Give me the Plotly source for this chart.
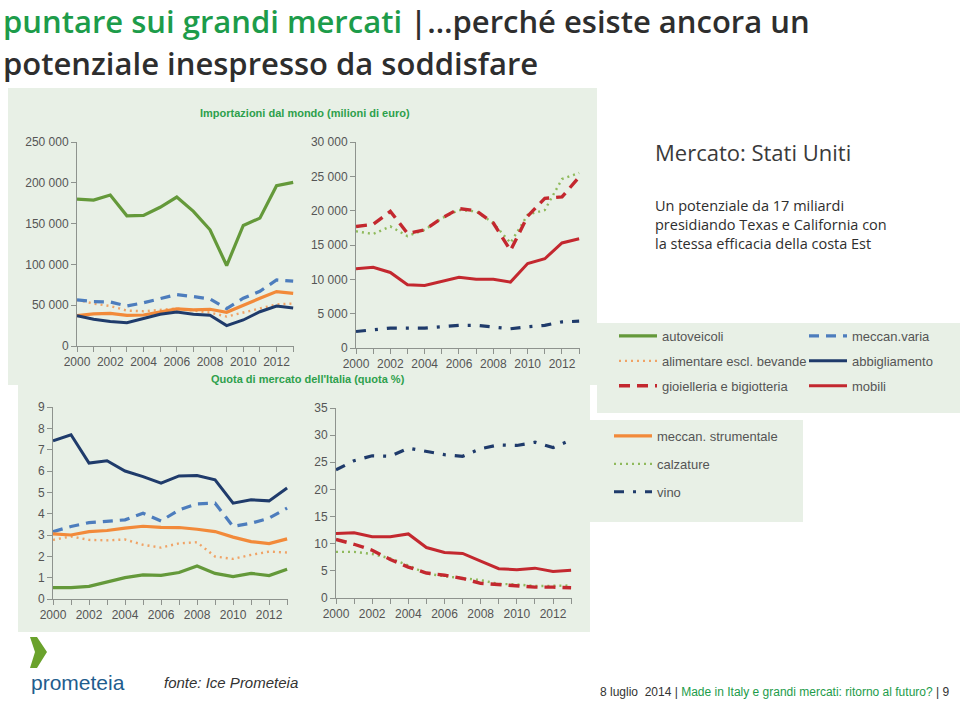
import plotly.graph_objects as go

W, H = 960, 701

# ---------------- data ----------------
years = [2000, 2001, 2002, 2003, 2004, 2005, 2006, 2007, 2008, 2009, 2010, 2011, 2012, 2013]
year_labels = ["2000", "", "2002", "", "2004", "", "2006", "", "2008", "", "2010", "", "2012", ""]

# Importazioni dal mondo (milioni di euro) - left panel
imp_autoveicoli = [180000, 178800, 185000, 159600, 160000, 170000, 182500, 165000, 142400, 98600, 147700, 156700, 196400, 200500]
imp_meccan_varia = [56500, 54400, 54000, 49000, 53000, 57700, 63000, 60600, 57700, 45800, 58500, 67000, 81000, 79400]
imp_meccan_strum = [37200, 39300, 40000, 37600, 38000, 42000, 45400, 44200, 45000, 41300, 50300, 58500, 66700, 64600]
imp_alimentare = [56500, 52000, 49000, 43400, 42600, 44000, 46000, 43400, 41000, 36000, 41000, 46000, 51000, 52000]
imp_abbigliamento = [37200, 32700, 29900, 28600, 33600, 38900, 41700, 38900, 37600, 25000, 31900, 42000, 49000, 46600]

# Importazioni dal mondo (milioni di euro) - right panel
imp_gioielleria = [17700, 18000, 19900, 16700, 17200, 18900, 20300, 20000, 18200, 14200, 19200, 21800, 22000, 24900]
imp_calzature = [17000, 16600, 17700, 16300, 17200, 18900, 20100, 19900, 18200, 15300, 19400, 20100, 24600, 25500]
imp_mobili = [11550, 11750, 11000, 9200, 9100, 9700, 10300, 10000, 10000, 9600, 12300, 13000, 15300, 15900]
imp_vino = [2400, 2600, 2900, 2900, 2900, 3100, 3300, 3300, 3000, 2800, 3100, 3300, 3800, 3900]

# Quota di mercato dell'Italia (%) - left panel
q_abbigliamento = [7.42, 7.7, 6.37, 6.48, 6.0, 5.74, 5.43, 5.77, 5.79, 5.59, 4.49, 4.65, 4.6, 5.2]
q_meccan_varia = [3.16, 3.4, 3.58, 3.63, 3.71, 4.02, 3.66, 4.18, 4.46, 4.49, 3.4, 3.55, 3.79, 4.26]
q_meccan_strum = [3.05, 3.0, 3.16, 3.21, 3.32, 3.41, 3.36, 3.35, 3.27, 3.16, 2.9, 2.69, 2.6, 2.82]
q_alimentare = [2.77, 2.93, 2.77, 2.75, 2.79, 2.54, 2.41, 2.61, 2.66, 1.99, 1.88, 2.07, 2.22, 2.18]
q_autoveicoli = [0.53, 0.53, 0.59, 0.81, 1.0, 1.13, 1.11, 1.24, 1.55, 1.2, 1.05, 1.2, 1.1, 1.39]

# Quota di mercato dell'Italia (%) - right panel
q_vino = [23.6, 25.3, 26.2, 26.1, 27.6, 27.0, 26.4, 26.1, 27.5, 28.2, 28.1, 28.7, 27.7, 29.1]
q_mobili = [11.9, 12.0, 11.3, 11.3, 11.8, 9.3, 8.4, 8.2, 6.8, 5.4, 5.2, 5.5, 4.9, 5.1]
q_gioielleria = [10.8, 9.9, 8.8, 7.1, 5.7, 4.6, 4.2, 3.6, 2.7, 2.5, 2.3, 2.0, 2.0, 1.9]
q_calzature = [8.5, 8.5, 8.1, 7.3, 6.0, 4.5, 4.0, 3.7, 3.3, 2.6, 2.5, 2.2, 2.2, 2.3]

# tick labels
tl_ticks = [0, 50000, 100000, 150000, 200000, 250000]
tl_labels = ["0", "50 000", "100 000", "150 000", "200 000", "250 000"]
tr_ticks = [0, 5000, 10000, 15000, 20000, 25000, 30000]
tr_labels = ["0", "5 000", "10 000", "15 000", "20 000", "25 000", "30 000"]
bl_ticks = [0, 1, 2, 3, 4, 5, 6, 7, 8, 9]
br_ticks = [0, 5, 10, 15, 20, 25, 30, 35]

# ---------------- styles ----------------
NARROW = "Liberation Sans Narrow, Arial Narrow, Liberation Sans, sans-serif"
STY = {
    "autoveicoli": dict(color="#64993a", dash="solid", width=3.2),
    "meccan.varia": dict(color="#4d7dbd", dash="10px,7px", width=3.2),
    "alimentare escl. bevande": dict(color="#f0a366", dash="2px,4px", width=2.4),
    "abbigliamento": dict(color="#1f3b6b", dash="solid", width=3.0),
    "gioielleria e bigiotteria": dict(color="#c3282f", dash="11px,7px", width=3.4),
    "mobili": dict(color="#c3282f", dash="solid", width=3.0),
    "meccan. strumentale": dict(color="#f28a3a", dash="solid", width=3.2),
    "calzature": dict(color="#8fba5c", dash="2px,4px", width=2.4),
    "vino": dict(color="#1f3b6b", dash="10px,9px,3px,9px", width=3.2),
}
LEGEND_OF = {
    "autoveicoli": ("legend", 1), "alimentare escl. bevande": ("legend", 2),
    "gioielleria e bigiotteria": ("legend", 3),
    "meccan.varia": ("legend2", 1), "abbigliamento": ("legend2", 2), "mobili": ("legend2", 3),
    "meccan. strumentale": ("legend3", 1), "calzature": ("legend3", 2), "vino": ("legend3", 3),
}


def px(x):
    return x / W


def py(y):
    return 1 - y / H


fig = go.Figure()


def add(name, vals, ax, show):
    s = STY[name]
    leg, rank = LEGEND_OF[name]
    fig.add_trace(go.Scatter(
        x=years, y=vals, mode="lines", name=name,
        line=dict(color=s["color"], dash=s["dash"], width=s["width"], shape="linear"),
        xaxis="x" + ax, yaxis="y" + ax, legendgroup=name, showlegend=show,
        legend=leg, legendrank=rank, hoverinfo="skip",
    ))


# top-left
add("alimentare escl. bevande", imp_alimentare, "", True)
add("meccan.varia", imp_meccan_varia, "", True)
add("meccan. strumentale", imp_meccan_strum, "", True)
add("abbigliamento", imp_abbigliamento, "", True)
add("autoveicoli", imp_autoveicoli, "", True)
# top-right
add("calzature", imp_calzature, "2", True)
add("gioielleria e bigiotteria", imp_gioielleria, "2", True)
add("mobili", imp_mobili, "2", True)
add("vino", imp_vino, "2", True)
# bottom-left
add("alimentare escl. bevande", q_alimentare, "3", False)
add("meccan.varia", q_meccan_varia, "3", False)
add("meccan. strumentale", q_meccan_strum, "3", False)
add("abbigliamento", q_abbigliamento, "3", False)
add("autoveicoli", q_autoveicoli, "3", False)
# bottom-right
add("calzature", q_calzature, "4", False)
add("gioielleria e bigiotteria", q_gioielleria, "4", False)
add("mobili", q_mobili, "4", False)
add("vino", q_vino, "4", False)

AXC = "#8e938e"
TICKF = dict(family=NARROW, size=12, color="#555555")


def xax(x0, x1, anchor):
    return dict(domain=[px(x0), px(x1)], range=[2000, 2013.05], anchor=anchor,
                tickvals=years, ticktext=year_labels, showgrid=False, zeroline=False,
                showline=True, linecolor=AXC, linewidth=1, ticks="outside", ticklen=5,
                tickcolor=AXC, tickfont=TICKF, fixedrange=True, automargin=False)


def yax(y0, y1, rng, tv, tt, anchor):
    return dict(domain=[py(y0), py(y1)], range=rng, anchor=anchor, tickvals=tv, ticktext=tt,
                showgrid=False, zeroline=False, showline=True, linecolor=AXC, linewidth=1,
                ticks="outside", ticklen=5, tickcolor=AXC, tickfont=TICKF, fixedrange=True,
                automargin=False)


LEG = dict(bgcolor="rgba(0,0,0,0)", borderwidth=0, xanchor="left", yanchor="top",
           font=dict(family=NARROW, size=13, color="#555555"), itemwidth=38,
           orientation="v", traceorder="grouped")

panel = "#e8f0e6"
shapes = [
    dict(type="rect", xref="paper", yref="paper", x0=px(8), x1=px(597), y0=py(385), y1=py(88),
         fillcolor=panel, line=dict(width=0), layer="below"),
    dict(type="rect", xref="paper", yref="paper", x0=px(18), x1=px(590), y0=py(632), y1=py(384),
         fillcolor=panel, line=dict(width=0), layer="below"),
    dict(type="rect", xref="paper", yref="paper", x0=px(597), x1=px(960), y0=py(413), y1=py(323),
         fillcolor=panel, line=dict(width=0), layer="below"),
    dict(type="rect", xref="paper", yref="paper", x0=px(590), x1=px(803), y0=py(522), y1=py(420),
         fillcolor=panel, line=dict(width=0), layer="below"),
]
chev = [(30, 637), (37, 637), (47, 652), (37, 668), (30, 668), (35, 652)]
path = "M" + " L".join(f"{px(a):.5f},{py(b):.5f}" for a, b in chev) + " Z"
shapes.append(dict(type="path", xref="paper", yref="paper", path=path,
                   fillcolor="#6aa22c", line=dict(width=0)))


def ann(text, x, y, size, color="#333333", family="Open Sans", xanchor="left", yanchor="middle", **kw):
    return dict(text=text, x=px(x), y=py(y), xref="paper", yref="paper", showarrow=False,
                xanchor=xanchor, yanchor=yanchor, align="left",
                font=dict(size=size, color=color, family=family, **kw))


GREEN = "#1d9c4a"
annotations = [
    ann(f"<span style='color:{GREEN}'>puntare sui grandi mercati</span> |…perché esiste ancora un",
        1, 21, 31, color="#2e2e2e", weight=600),
    ann("potenziale inespresso da soddisfare", 1, 63, 31, color="#2e2e2e", weight=600),
    ann("Importazioni dal mondo (milioni di euro)", 305, 113, 11, color="#2ea04c",
        family=NARROW, xanchor="center", weight="bold"),
    ann("Quota di mercato dell'Italia (quota %)", 308, 379, 11, color="#2ea04c",
        family=NARROW, xanchor="center", weight="bold"),
    ann("Mercato: Stati Uniti", 653, 152, 22, color="#3a3a3a"),
    ann("Un potenziale da 17 miliardi<br>presidiando Texas e California con<br>la stessa efficacia della costa Est",
        653, 224, 14.5, color="#2e2e2e"),
    ann("prometeia", 29, 682, 21, color="#1f5d8e", family=NARROW),
    ann("<i>fonte: Ice Prometeia</i>", 162, 682, 15, color="#333333", family=NARROW),
    ann(f"8 luglio  2014 | <span style='color:{GREEN}'>Made in Italy e grandi mercati: ritorno al futuro?</span> | 9",
        951, 692, 12, color="#333333", family=NARROW, xanchor="right"),
]

fig.update_layout(
    width=W, height=H, margin=dict(l=0, r=0, t=0, b=0, autoexpand=False),
    paper_bgcolor="white", plot_bgcolor="rgba(0,0,0,0)",
    showlegend=True,
    xaxis=xax(77, 294, "y"),
    yaxis=yax(346, 142, [0, 250000], tl_ticks, tl_labels, "x"),
    xaxis2=xax(356, 580, "y2"),
    yaxis2=yax(348, 142, [0, 30000], tr_ticks, tr_labels, "x2"),
    xaxis3=xax(53, 288, "y3"),
    yaxis3=yax(599, 407, [0, 9], bl_ticks, [str(v) for v in bl_ticks], "x3"),
    xaxis4=xax(336, 572, "y4"),
    yaxis4=yax(598, 408, [0, 35], br_ticks, [str(v) for v in br_ticks], "x4"),
    legend=dict(LEG, x=px(614), y=py(321), tracegroupgap=5),
    legend2=dict(LEG, x=px(804), y=py(321), tracegroupgap=5),
    legend3=dict(LEG, x=px(609), y=py(421), tracegroupgap=8),
    shapes=shapes, annotations=annotations,
)

fig.write_html("out.html")
